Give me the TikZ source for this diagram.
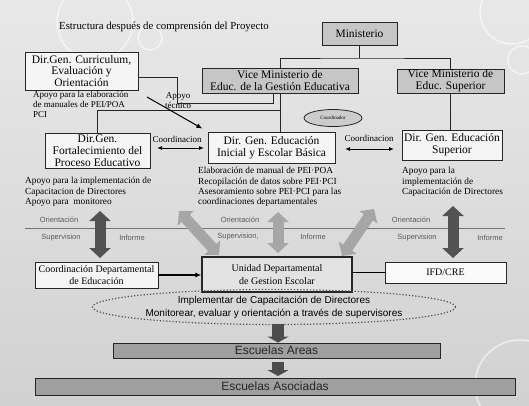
\documentclass[tikz,border=0pt]{standalone}
\usepackage{fontspec}
\setmainfont{Liberation Serif}
\setsansfont{Liberation Sans}
\usetikzlibrary{arrows.meta}
\usetikzlibrary{shapes.geometric}

\tikzset{
  caja/.style={draw=black!85, line width=0.9pt, align=center, inner sep=0pt,
    font=\fontsize{11.5}{11.8}\selectfont},
  cajagris/.style={caja, fill=gray!45},
  cajaclara/.style={caja, fill=gray!8},
  nota/.style={align=left, anchor=north west, inner sep=0pt,
    font=\fontsize{9.3}{10.4}\selectfont},
  etiqueta/.style={inner sep=0pt, text=black!65, font=\sffamily\fontsize{7.5}{9}\selectfont},
  linea/.style={draw=black!85, line width=0.9pt},
  coord/.style={line width=1pt, {Latex[length=5pt,width=4pt]}-{Latex[length=5pt,width=4pt]}},
  bigflecha/.style={line width=11pt, {Triangle[length=10pt,width=21pt]}-{Triangle[length=10pt,width=21pt]}},
  oscura/.style={bigflecha, draw=black!68},
  clara/.style={bigflecha, draw=black!35},
  bajada/.style={line width=12pt, draw=black!70, -{Triangle[length=6pt,width=21pt]}},
  barra/.style={draw=black!85, line width=0.9pt, fill=gray!75!white,
    font=\sffamily\fontsize{12}{14}\selectfont, text=black!85}
}

\begin{document}
\begin{tikzpicture}[x=1pt,y=-1pt]
  \useasboundingbox (0,0) rectangle (529,405);
  \clip (0,0) rectangle (529,405);
  \shade[top color=gray!18, bottom color=gray!36] (0,0) rectangle (529,405);
  % burbujas del fondo
  \draw[white, line width=1.5pt, opacity=0.6] (95,22) circle (38pt);
  \draw[white, line width=1.5pt, opacity=0.6] (150,38) circle (12pt);
  \draw[white, line width=1.5pt, opacity=0.6] (512,12) circle (32pt);
  \draw[white, line width=1.5pt, opacity=0.6] (522,60) circle (14pt);
  \draw[white, line width=1.5pt, opacity=0.6] (520,385) circle (45pt);

  \node[font=\fontsize{10.8}{12}\selectfont] (titulo) at (164,27) {Estructura después de comprensión del Proyecto};

  % primer nivel
  \node[cajagris, minimum width=75pt, minimum height=23pt] (mini) at (359.5,33.5) {Ministerio};
  \node[cajaclara, minimum width=113pt, minimum height=38pt] (cur) at (81.5,71) {Dir.Gen. Curriculum,\\Evaluación y\\Orientación};
  \node[cajagris, minimum width=156pt, minimum height=25pt] (vges) at (280,80.5) {Vice Ministerio de\\Educ. de la Gestión Educativa};
  \node[cajagris, minimum width=107pt, minimum height=24pt] (vsup) at (450.5,81) {Vice Ministerio de\\Educ. Superior};

  % direcciones
  \node[cajaclara, minimum width=105pt, minimum height=35pt] (fort) at (97.5,150.5) {Dir.Gen.\\Fortalecimiento del\\Proceso Educativo};
  \node[cajaclara, minimum width=127pt, minimum height=31pt] (ini) at (271.5,147.5) {Dir. Gen. Educación\\Inicial y Escolar Básica};
  \node[cajaclara, minimum width=100pt, minimum height=30pt] (dsup) at (452,145) {Dir. Gen. Educación\\Superior};
  \node[ellipse, draw=black!85, line width=0.8pt, fill=gray!40, minimum width=58pt, minimum height=17pt,
    inner sep=0pt, font=\fontsize{5}{6}\selectfont] (cdor) at (333,118) {Coordinador};

  % lineas del organigrama
  \coordinate (bus) at (359.5,58);
  \coordinate (rama) at (280,110);
  \coordinate (codo) at (177,103);
  \draw[linea] (mini.south) -- (bus);
  \draw[linea] (vges.north) |- (bus) -| (vsup.north);
  \draw[linea] (vges.south) -- (vges.south |- ini.north);
  \draw[linea] (rama) -| (fort.north);
  \draw[linea] ([xshift=-7pt]vges.south) |- (codo) |- ([yshift=-6pt]cur.east);
  \draw[linea] (vsup.south) -- (vsup.south |- dsup.north);

  \node[nota, anchor=north west, font=\fontsize{9}{10}\selectfont] (nota1) at (33,91.5) {Apoyo para la elaboración\\de manuales de PEI/POA\\PCI};
  \node[nota, align=center, anchor=north, font=\fontsize{9}{10.5}\selectfont] (tecnico) at (178,92) {Apoyo\\técnico};
  \coordinate (apoyo) at (147,97);
  \draw[line width=1pt, -{Latex[length=6pt,width=5pt]}, shorten >=6pt] (apoyo) -- (ini.north west);

  % coordinacion
  \coordinate (c1) at (157,148);
  \coordinate (c2) at (204,148);
  \coordinate (c3) at (345,149);
  \coordinate (c4) at (394,149);
  \draw[coord] (c1) -- (c2);
  \draw[coord] (c3) -- (c4);
  \node[font=\fontsize{9}{10}\selectfont, inner sep=0pt] (coordL) at (177,139) {Coordinacion};
  \node[font=\fontsize{9}{10}\selectfont, inner sep=0pt] (coordR) at (369,138) {Coordinacion};

  \node[nota] (nota2) at (25,177) {Apoyo para la implementación de\\Capacitacion de Directores\\Apoyo para\ \ monitoreo};
  \node[nota] (nota3) at (198,167) {Elaboración de manual de PEI·POA\\Recopilación de datos sobre PEI·PCI\\Asesoramiento sobre PEI·PCI para las\\coordinaciones departamentales};
  \node[nota] (nota4) at (402,167) {Apoyo para la\\implementación de\\Capacitación de Directores};

  % linea de supervision
  \coordinate (s1) at (25,228);
  \coordinate (s2) at (505,228);
  \draw[draw=black!55, line width=1pt] (s1) -- (s2);
  \node[etiqueta] (o1) at (59,220) {Orientación};
  \node[etiqueta] (p1) at (61,238) {Supervision};
  \node[etiqueta] (i1) at (132,238) {Informe};
  \node[etiqueta] (o2) at (240,220) {Orientación};
  \node[etiqueta] (p2) at (238,237) {Supervision,};
  \node[etiqueta] (i2) at (313,237) {Informe};
  \node[etiqueta] (o3) at (411,220) {Orientación};
  \node[etiqueta] (p3) at (417,238) {Supervision};
  \node[etiqueta] (i3) at (490,238) {Informe};

  % flechas grandes
  \coordinate (a1) at (100,211);
  \coordinate (b1) at (100,258);
  \coordinate (a2) at (453,206);
  \coordinate (b2) at (453,258);
  \coordinate (a3) at (278,212);
  \coordinate (b3) at (278,253);
  \coordinate (a4) at (179,211);
  \coordinate (b4) at (219,255);
  \coordinate (a5) at (374,209);
  \coordinate (b5) at (342,256);
  \draw[clara] (a3) -- (b3);
  \draw[clara] (a4) -- (b4);
  \draw[clara] (a5) -- (b5);
  \draw[oscura] (a1) -- (b1);
  \draw[oscura] (a2) -- (b2);

  % nivel departamental
  \node[caja, fill=gray!8, minimum width=123pt, minimum height=26pt, font=\fontsize{10}{12}\selectfont] (cdep) at (96.5,275) {Coordinación Departamental\\de Educación};
  \node[caja, fill=gray!22, line width=1.4pt, minimum width=150pt, minimum height=35pt, font=\fontsize{10}{12.5}\selectfont] (udge) at (277,274.5) {Unidad Departamental\\de Gestion Escolar};
  \node[caja, fill=gray!4, minimum width=121pt, minimum height=21pt, font=\fontsize{10}{12}\selectfont] (ifd) at (445.5,272.5) {IFD/CRE};
  \draw[line width=1.2pt, -{Latex[length=6pt,width=5pt]}] (cdep.east) -- (cdep.east -| udge.west);
  \draw[line width=1.4pt] (ifd.west) -- (ifd.west -| udge.east);

  \node[ellipse, draw=black!70, dotted, line width=1.2pt, minimum width=348pt, minimum height=35pt,
    inner sep=0pt, align=center, font=\sffamily\fontsize{10}{13}\selectfont] (impl) at (274,307)
    {Implementar de Capacitación de Directores\\Monitorear, evaluar y orientación a través de supervisores};

  \node[barra, minimum width=327pt, minimum height=15pt, inner sep=0pt] (areas) at (276.5,350.5) {Escuelas Areas};
  \node[barra, minimum width=480pt, minimum height=17pt, inner sep=0pt] (asoc) at (275,386.5) {Escuelas Asociadas};
  \draw[bajada] (278,324) -- (areas.north -| 278,0);
  \draw[bajada] (areas.south -| 278,0) ++(0,4) -- (278,376);
\end{tikzpicture}
\end{document}
